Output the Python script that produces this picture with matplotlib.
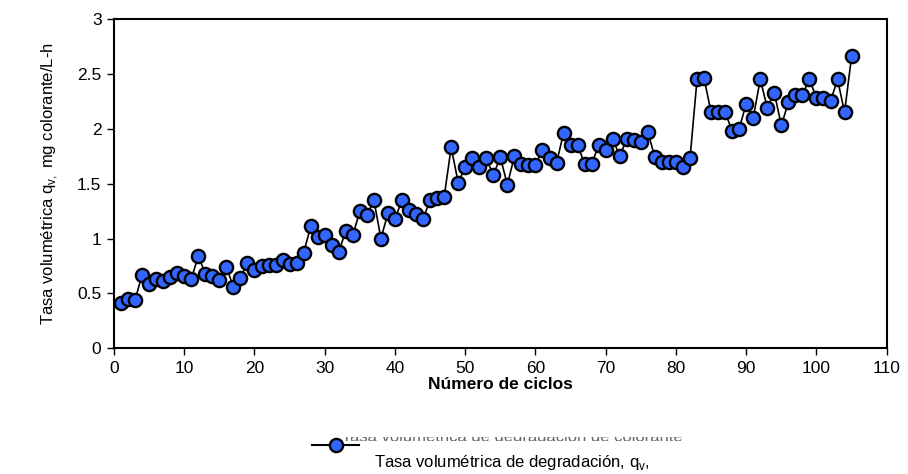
import matplotlib
matplotlib.use("Agg")
import matplotlib.pyplot as plt
from matplotlib.lines import Line2D
from matplotlib.textpath import TextPath
from matplotlib.patches import PathPatch
from matplotlib.font_manager import FontProperties
from matplotlib.transforms import Bbox, IdentityTransform, Affine2D

plt.rcParams['font.family'] = ['Liberation Sans', 'DejaVu Sans']

cycles = list(range(1, 106))
rate = [0.41, 0.45, 0.44, 0.67, 0.59, 0.63, 0.61, 0.65, 0.69, 0.66,
        0.63, 0.84, 0.68, 0.66, 0.62, 0.74, 0.56, 0.64, 0.78, 0.71,
        0.75, 0.76, 0.76, 0.80, 0.77, 0.78, 0.87, 1.11, 1.01, 1.03,
        0.94, 0.88, 1.07, 1.03, 1.25, 1.21, 1.35, 1.00, 1.23, 1.18,
        1.35, 1.26, 1.22, 1.18, 1.35, 1.37, 1.38, 1.83, 1.51, 1.65,
        1.73, 1.65, 1.73, 1.58, 1.74, 1.49, 1.75, 1.68, 1.67, 1.67,
        1.81, 1.73, 1.69, 1.96, 1.85, 1.85, 1.68, 1.68, 1.85, 1.81,
        1.91, 1.75, 1.91, 1.90, 1.88, 1.97, 1.74, 1.70, 1.70, 1.70,
        1.65, 1.73, 2.45, 2.46, 2.15, 2.15, 2.15, 1.98, 2.00, 2.23,
        2.10, 2.45, 2.19, 2.33, 2.03, 2.24, 2.31, 2.31, 2.45, 2.28,
        2.28, 2.25, 2.45, 2.15, 2.66]

xticks = [0, 10, 20, 30, 40, 50, 60, 70, 80, 90, 100, 110]
yticks = [0, 0.5, 1, 1.5, 2, 2.5, 3]
ytick_labels = ['0', '0.5', '1', '1.5', '2', '2.5', '3']

W, H = 908, 474
fig = plt.figure(figsize=(W / 100, H / 100), dpi=100)
ax = fig.add_axes([114 / W, 1 - 348.3 / H, (886.7 - 114) / W, (348.3 - 19) / H])

blue = '#3366FF'
ax.plot(cycles, rate, color='black', lw=1.2, marker='o', ms=9.5,
        mfc=blue, mec='black', mew=1.7, zorder=3, clip_on=False)

ax.set_xlim(0, 110)
ax.set_ylim(0, 3)
ax.set_xticks(xticks)
ax.set_yticks(yticks)
ax.set_yticklabels(ytick_labels)
ax.tick_params(direction='out', length=5, width=1, labelsize=12.5, pad=4)
for s in ax.spines.values():
    s.set_linewidth(1.5)

ax.set_xlabel('Número de ciclos', fontsize=12.5, fontweight='bold', labelpad=1)
ax.set_ylabel('Tasa volumétrica q$_\\mathregular{v,}$ mg colorante/L-h',
              fontsize=12, labelpad=12)

# legend (drawn manually to mimic the clipped original first line)
fp = FontProperties(family='Liberation Sans')
tp = TextPath((0, 0), 'Tasa volumétrica de degradación de colorante',
              size=12 * 100 / 72, prop=fp)
ext = tp.get_extents()
cx = 512
base_y = H - 441.5
tr = Affine2D().translate(cx - (ext.x0 + ext.x1) / 2, base_y)
pp = PathPatch(tr.transform_path(tp), transform=IdentityTransform(),
               facecolor='#666666', edgecolor='none')
pp.set_clip_box(Bbox([[0, H - 441], [W, H - 437]]))
pp.set_clip_on(True)
fig.add_artist(pp)

hy = 1 - 445 / H
fig.add_artist(Line2D([312 / W, 359 / W], [hy, hy], transform=fig.transFigure,
                      color='black', lw=1.5))
fig.add_artist(Line2D([335.5 / W], [hy], transform=fig.transFigure, marker='o',
                      ms=9.5, mfc=blue, mec='black', mew=1.7, ls='none'))

fig.text(512 / W, 1 - 462 / H, 'Tasa volumétrica de degradación, q$_\\mathregular{v}$,',
         ha='center', va='center', fontsize=12)

fig.savefig('out.png', dpi=100)
